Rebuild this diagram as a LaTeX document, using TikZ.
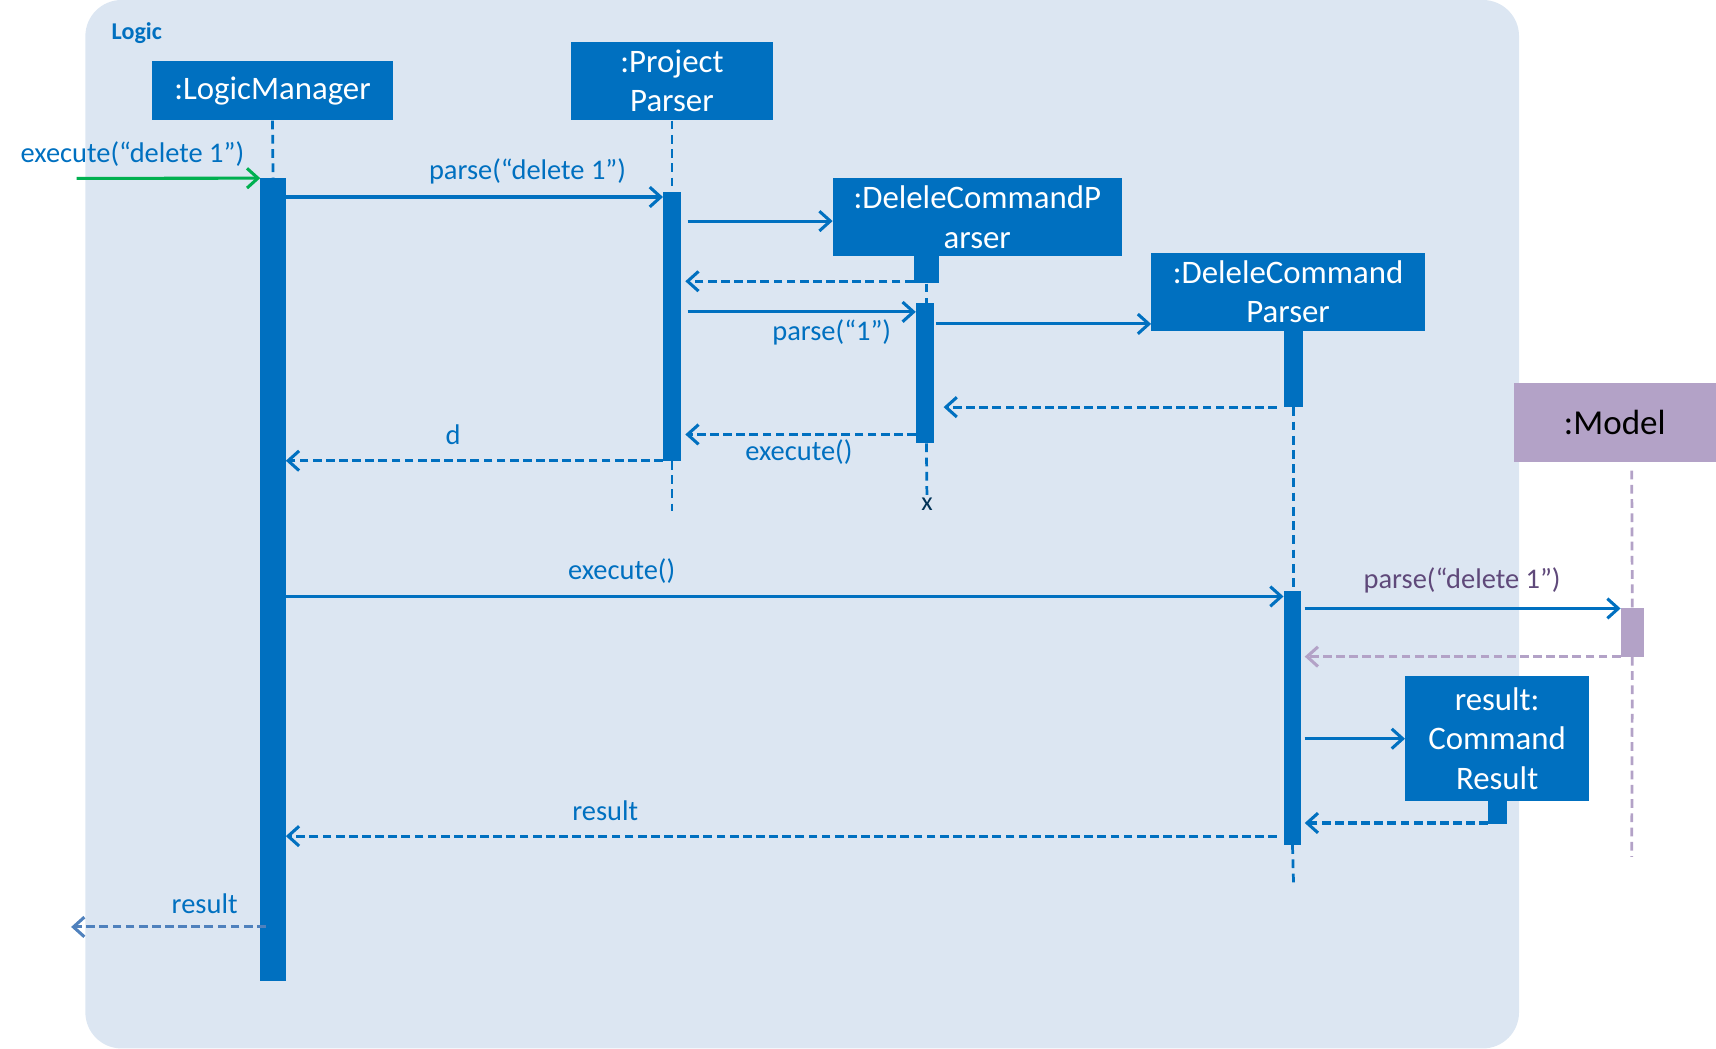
\documentclass[tikz,border=0pt]{standalone}
\usepackage{fontspec}
\setmainfont{Carlito}
\usetikzlibrary{arrows.meta,positioning,calc}
\definecolor{logicblue}{HTML}{0070C0}
\definecolor{logicbg}{HTML}{DCE6F2}
\definecolor{modelpurple}{HTML}{B3A2C7}
\definecolor{modeltext}{HTML}{5F497A}
\definecolor{callgreen}{HTML}{00B050}
\definecolor{retblue}{HTML}{4F81BD}

\begin{document}
\begin{tikzpicture}[x=1pt,y=-1pt,
  objbox/.style={fill=logicblue,text=white,align=center,inner sep=0pt,font=\fontsize{30}{36}\selectfont},
  act/.style={fill=logicblue,inner sep=0pt},
  life/.style={logicblue,line width=2.5pt,dash pattern=on 8pt off 5pt},
  call/.style={logicblue,line width=2.8pt,-{Straight Barb[length=10pt,width=18pt]}},
  ret/.style={call,dash pattern=on 8pt off 4pt},
  lbl/.style={text=logicblue,font=\fontsize{26}{30}\selectfont,inner sep=0pt}]
\useasboundingbox (0,0) rectangle (1568,958);

% Logic panel
\fill[logicbg,rounded corners=33pt] (78,0) rectangle (1388,958);
\node[text=logicblue,font=\bfseries\fontsize{22}{26}\selectfont] (logicLbl) at (125,30) {Logic};

% Objects
\node[objbox,minimum width=220pt,minimum height=54pt] (lm) at (249,83) {:LogicManager};
\node[objbox,minimum width=185pt,minimum height=72pt] (pp) at (614,74) {:Project\\Parser};
\node[objbox,minimum width=264pt,minimum height=71pt] (dcp) at (893,198.5) {:DeleleCommandP\\arser};
\node[objbox,minimum width=250pt,minimum height=71pt] (dc) at (1177,266.5) {:DeleleCommand\\Parser};
\node[objbox,fill=modelpurple,text=black,font=\fontsize{32}{38}\selectfont,minimum width=185pt,minimum height=72pt] (model) at (1475.5,386) {:Model};
\node[objbox,minimum width=168pt,minimum height=114pt] (res) at (1368,675) {result:\\Command\\Result};

% Activation bars
\foreach \n/\x/\y/\w/\h in {lmAct/249.5/529.5/23/733, ppAct/614/298/16/246, dcpTop/846.5/246.5/23/25,
    dcpAct/845/341/16/128, dcTop/1182/337/18/70, dcAct/1181/656/16/232, resAct/1368.5/742.5/17/21} {
  \node[act,minimum width=\w pt,minimum height=\h pt] (\n) at (\x,\y) {};
}
\node[act,fill=modelpurple,minimum width=21pt,minimum height=44pt] (modelAct) at (1491.5,578) {};

% Lifelines
\coordinate (ppEnd) at (614,467);
\coordinate (dcEnd) at (1182,808);
\coordinate (modelTop) at (1491,430);
\coordinate (modelEnd) at (1491,783);
\node[text=logicblue!45!black,font=\fontsize{24}{28}\selectfont,inner sep=0pt] (xmark) at (847,461) {x};
\draw[life] (lm.south) -- (lmAct.north);
\draw[life] (pp.south) -- (ppAct.north);
\draw[life] (ppAct.south) -- (ppEnd);
\draw[life] (dcpTop.south) -- (dcpTop.south |- dcpAct.north);
\draw[life] (dcpTop.south |- dcpAct.south) -- (xmark.north);
\draw[life] (dcTop.south) -- (dcTop.south |- dcAct.north);
\draw[life] (dcAct.south) -- (dcEnd);
\draw[life,modelpurple] (modelTop) -- (modelAct.north);
\draw[life,modelpurple] (modelAct.south) -- (modelEnd);

% Messages
\coordinate (inStart) at (70,163);
\coordinate (outEnd) at (65,847);
\draw[call,callgreen] (inStart) -- (lmAct.north west);
\draw[call] (lmAct.east |- 0,180) -- (ppAct.west |- 0,180);
\draw[call] ($(ppAct.east |- 0,202)+(6,0)$) -- (dcp.west |- 0,202);
\draw[ret] (dcpTop.west |- 0,257) -- ($(ppAct.east |- 0,257)+(4,0)$);
\draw[call] ($(ppAct.east |- 0,285)+(6,0)$) -- (dcpAct.west |- 0,285);
\draw[call] ($(dcpAct.east |- 0,296)+(2,0)$) -- (dc.west |- 0,296);
\draw[ret] ($(dcTop.west |- 0,372)+(-6,0)$) -- ($(dcpAct.east |- 0,372)+(9,0)$);
\draw[ret] (dcpAct.west |- 0,397) -- ($(ppAct.east |- 0,397)+(4,0)$);
\draw[ret] (ppAct.west |- 0,421) -- (lmAct.east |- 0,421);
\draw[call] (lmAct.east |- 0,545) -- (dcAct.west |- 0,545);
\draw[call] ($(dcAct.east |- 0,556)+(3,0)$) -- (modelAct.west |- 0,556);
\draw[ret,modelpurple] (modelAct.west |- 0,600) -- ($(dcAct.east |- 0,600)+(3,0)$);
\draw[call] ($(dcAct.east |- 0,675)+(3,0)$) -- (res.west |- 0,675);
\draw[ret] (resAct.west |- 0,752) -- ($(dcAct.east |- 0,752)+(3,0)$);
\draw[ret] ($(dcAct.west |- 0,764)+(-6,0)$) -- (lmAct.east |- 0,764);
\draw[ret,retblue] ($(lmAct.west |- 0,847)+(5,0)$) -- (outEnd);

% Message labels
\node[lbl] (lExec) at (121,141) {execute(“delete 1”)};
\node[lbl] (lParse) at (482,157) {parse(“delete 1”)};
\node[lbl] (lParseOne) at (760,304) {parse(“1”)};
\node[lbl] (lExecA) at (730,413) {execute()};
\node[lbl] (lD) at (414,397) {d};
\node[lbl] (lExecB) at (568,522) {execute()};
\node[lbl,text=modeltext] (lParseModel) at (1336,530) {parse(“delete 1”)};
\node[lbl] (lResult) at (553,741) {result};
\node[lbl] (lResultOut) at (187,826) {result};
\end{tikzpicture}
\end{document}
